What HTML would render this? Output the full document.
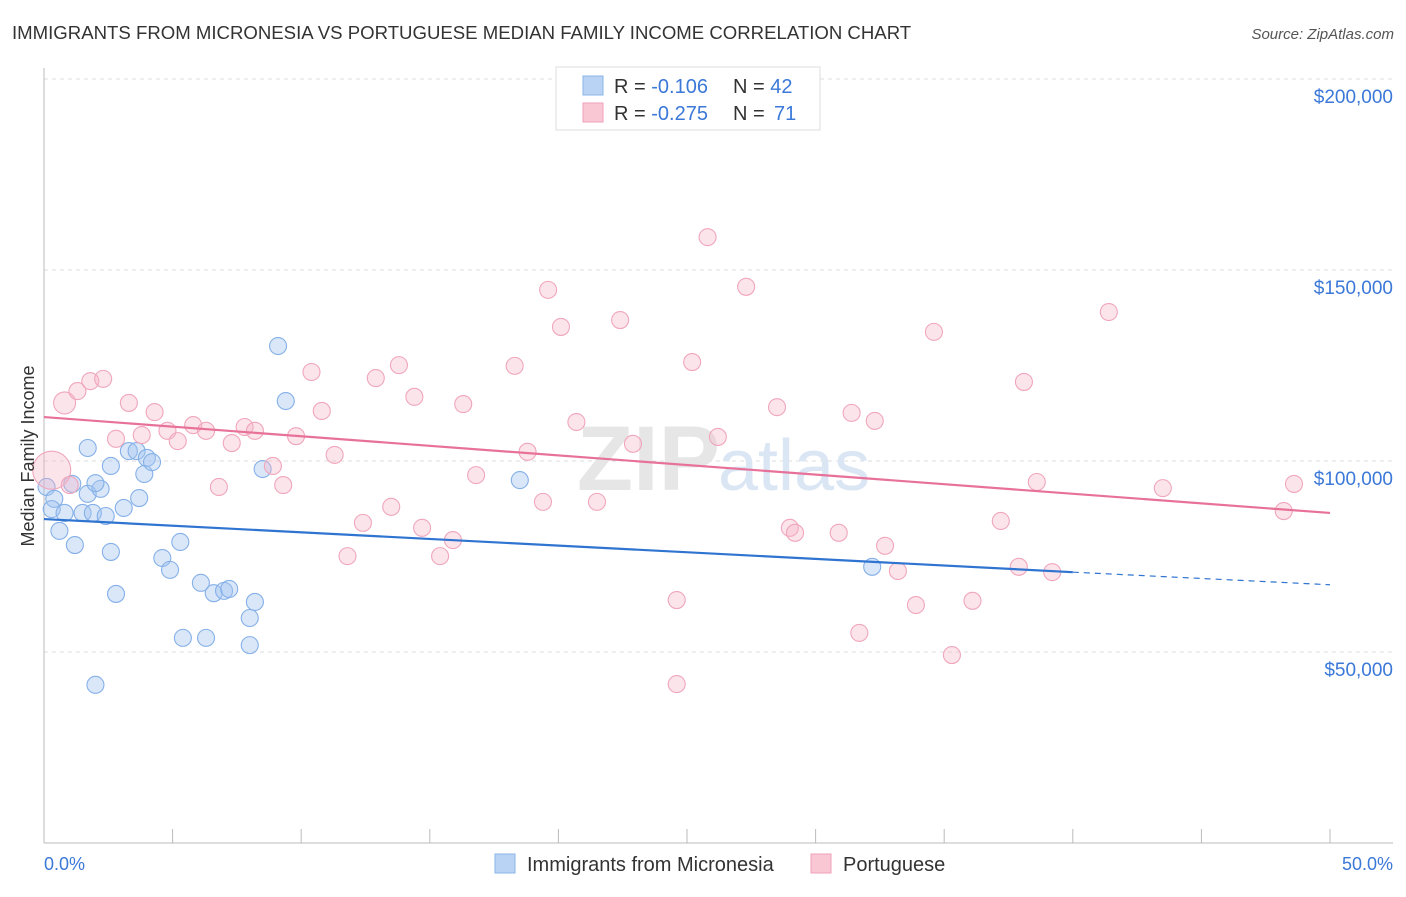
<!DOCTYPE html>
<html><head><meta charset="utf-8"><style>
body{margin:0;background:#fff;font-family:"Liberation Sans",sans-serif;}
svg text{font-family:"Liberation Sans",sans-serif;}
</style></head><body>
<svg width="1406" height="892" id="chart">
<text x="12" y="39" font-size="18.6" fill="#333">IMMIGRANTS FROM MICRONESIA VS PORTUGUESE MEDIAN FAMILY INCOME CORRELATION CHART</text>
<text x="1394" y="39" font-size="15" fill="#555" text-anchor="end" font-style="italic">Source: ZipAtlas.com</text>
<g id="grid"></g>
<text x="720" y="490" font-size="92" fill="#e6e6e6" text-anchor="end" font-family="Liberation Serif" font-weight="bold">ZIP</text>
<text x="718" y="490" font-size="72" fill="#dbe6f4">atlas</text>
<g id="marks"></g>
<text transform="translate(34,456) rotate(-90)" font-size="18" fill="#333" text-anchor="middle">Median Family Income</text>
<text x="44" y="870" font-size="18" fill="#3b78d8">0.0%</text>
<text x="1393" y="870" font-size="18" fill="#3b78d8" text-anchor="end">50.0%</text>
<g>
<rect x="556" y="67" width="264" height="63" fill="#fff" stroke="#ddd"/>
<rect x="583" y="76" width="20" height="19" fill="#b9d3f5" stroke="#8ab4e8"/>
<text x="614" y="93" font-size="20" fill="#333">R = <tspan fill="#3b78d8">-0.106</tspan><tspan x="733">N = </tspan><tspan fill="#3b78d8">42</tspan></text>
<rect x="583" y="103" width="20" height="19" fill="#f9c6d4" stroke="#f0a0b8"/>
<text x="614" y="120" font-size="20" fill="#333">R = <tspan fill="#3b78d8">-0.275</tspan><tspan x="733">N = </tspan><tspan x="774" fill="#3b78d8">71</tspan></text>
</g>
<g>
<rect x="495" y="854" width="20" height="19" fill="#b9d3f5" stroke="#8ab4e8"/>
<text x="527" y="871" font-size="20" fill="#333">Immigrants from Micronesia</text>
<rect x="811" y="854" width="20" height="19" fill="#f9c6d4" stroke="#f0a0b8"/>
<text x="843" y="871" font-size="20" fill="#333">Portuguese</text>
</g>
</svg>
<script>
const yTicks=[50000,100000,150000,200000];
const yTickLabels=["$50,000","$100,000","$150,000","$200,000"];
const xTicks=[0,5,10,15,20,25,30,35,40,45,50];
const blueX=[0.1,0.4,0.3,0.6,0.8,1.1,1.2,1.5,1.7,1.7,1.9,2.0,2.2,2.4,2.6,2.6,2.8,3.1,3.3,3.6,3.7,3.9,4.0,4.2,4.6,4.9,5.3,5.4,6.1,6.3,6.6,7.0,7.2,8.0,8.0,8.2,8.5,9.1,9.4,18.5,32.2,2.0];
const blueY=[93.2,90.1,87.4,81.7,86.4,94.0,78.0,86.4,91.4,103.4,86.4,41.4,92.7,85.6,98.7,76.2,65.2,87.7,102.6,102.6,90.3,96.6,100.8,99.7,74.6,71.5,78.8,53.7,68.1,53.7,65.4,66.0,66.5,51.8,58.9,63.1,97.9,130.1,115.7,95.0,72.3,94.2];
const pinkX=[0.3,0.8,1.0,1.3,1.8,2.3,2.8,3.3,3.8,4.3,4.8,5.2,5.8,6.3,6.8,7.3,7.8,8.2,8.9,9.3,9.8,10.4,10.8,11.3,11.8,12.4,12.9,13.5,13.8,14.4,14.7,15.4,15.9,16.3,16.8,18.3,18.8,19.4,19.6,20.1,20.7,21.5,22.4,22.9,24.6,24.6,25.2,25.8,26.2,27.3,28.5,29.0,29.2,30.9,31.4,31.7,32.3,32.7,33.2,33.9,34.6,35.3,36.1,37.2,37.9,38.1,38.6,39.2,41.4,43.5,48.2,48.6];
const pinkY=[97.6,115.2,93.7,118.3,120.9,121.5,105.8,115.2,106.8,112.8,107.9,105.2,109.4,107.9,93.2,104.7,108.9,107.9,98.7,93.7,106.5,123.3,113.1,101.6,75.1,83.8,121.7,88.0,125.1,116.8,82.5,75.1,79.3,114.9,96.3,124.9,102.4,89.3,144.8,135.1,110.2,89.3,136.9,104.5,63.6,41.6,125.9,158.6,106.3,145.6,114.1,82.5,81.2,81.2,112.6,55.0,110.5,77.8,71.2,62.3,133.8,49.2,63.4,84.3,72.3,120.7,94.5,70.9,139.0,92.9,86.9,94.0];
const pinkBig=[0,1];
const blueTrend=[84.8,70.9,67.6]; // at 0%,40%,50%
const pinkTrend=[111.5,86.4]; // at 0%,50%
const NS="http://www.w3.org/2000/svg";
const X=p=>44+p*(1286/50);
const Y=k=>652-(k-50)*191/50;
function mk(t,a,parent){const e=document.createElementNS(NS,t);for(const k in a)e.setAttribute(k,a[k]);parent.appendChild(e);return e;}
const grid=document.getElementById('grid'),marks=document.getElementById('marks');
yTicks.forEach((v,i)=>{
 const l=mk('line',{x1:44,x2:1393,y1:Y(v/1000),y2:Y(v/1000),stroke:'#ddd','stroke-dasharray':'4,4'},grid);
 
 
 const t=mk('text',{x:1393,y:Y(v/1000)+24,'font-size':19,fill:'#3b78d8','text-anchor':'end'},grid);
 t.textContent=yTickLabels[i];
 
 
});
const ax=mk('line',{x1:44,x2:44,y1:68,y2:843,stroke:'#bbb'},grid);


const bx=mk('line',{x1:44,x2:1393,y1:843,y2:843,stroke:'#bbb'},grid);


xTicks.forEach(v=>{const t=mk('line',{x1:X(v),x2:X(v),y1:829,y2:843,stroke:'#bbb'},grid);
 
 });
blueX.forEach((x,i)=>{const c=mk('circle',{cx:X(x),cy:Y(blueY[i]),r:8.5,fill:'rgba(160,196,240,0.4)',stroke:'#85b0e8','stroke-width':1.1},marks);
 
 });
pinkX.forEach((x,i)=>{const big=pinkBig.includes(i);const c=mk('circle',{cx:X(x),cy:Y(pinkY[i]),r:i===0?19:(big?11:8.5),fill:'rgba(246,178,198,0.35)',stroke:'#f0a6bc','stroke-width':1.1},marks);
 
 });
const bl=mk('line',{x1:X(0),y1:Y(blueTrend[0]),x2:X(40),y2:Y(blueTrend[1]),stroke:'#2f74d0','stroke-width':2.2},marks);


const bd=mk('line',{x1:X(40),y1:Y(blueTrend[1]),x2:X(50),y2:Y(blueTrend[2]),stroke:'#2f74d0','stroke-width':1.2,'stroke-dasharray':'6,5'},marks);


const pl=mk('line',{x1:X(0),y1:Y(pinkTrend[0]),x2:X(50),y2:Y(pinkTrend[1]),stroke:'#e8719a','stroke-width':2.2},marks);


</script>
</body></html>
